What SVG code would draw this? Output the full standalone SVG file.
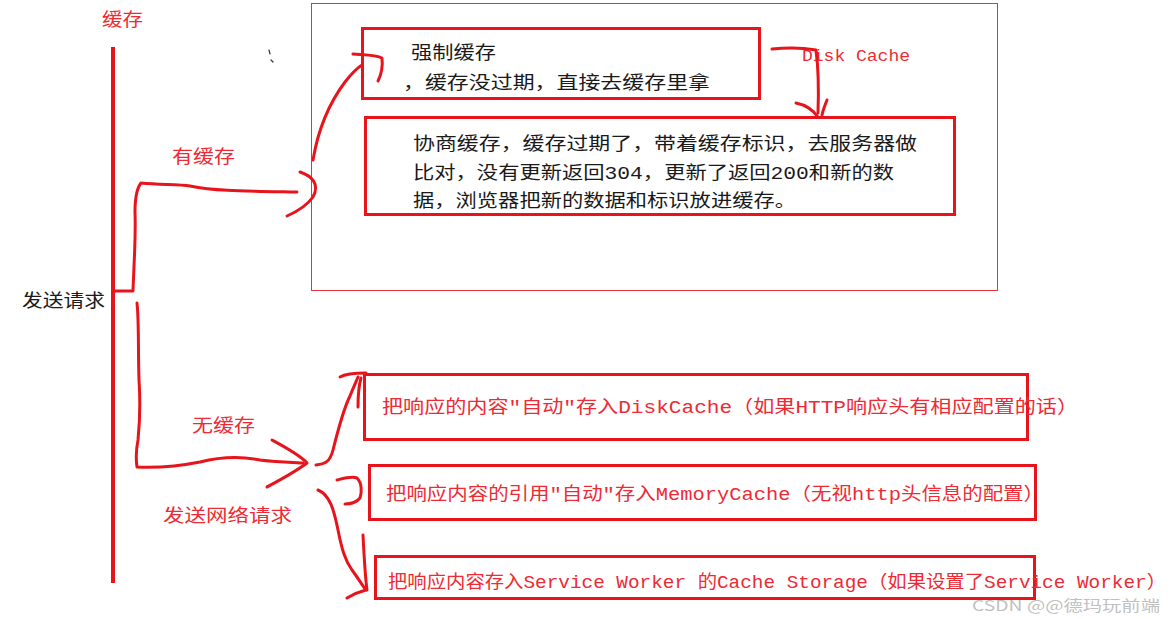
<svg xmlns="http://www.w3.org/2000/svg" width="1175" height="619" viewBox="0 0 1175 619">
<style>
  .t { font-family: "Liberation Mono", "Noto Sans CJK SC", monospace; font-size: 18px; }
  .red { fill: #ee2a35; }
  .blk { fill: #1a1a1a; }
  .box { fill: none; stroke: #e8141c; stroke-width: 3; }
  .ink { fill: none; stroke: #e8141c; stroke-width: 3; stroke-linecap: round; stroke-linejoin: round; }
</style>
<rect width="1175" height="619" fill="#ffffff"/>

<g id="title">
  <text class="t red" x="102" y="26" textLength="41" lengthAdjust="spacingAndGlyphs">缓存</text>
</g>
<g id="send-request">
  <text class="t blk" x="22" y="307" textLength="83" lengthAdjust="spacingAndGlyphs">发送请求</text>
</g>
<g id="label-has-cache">
  <text class="t red" x="172" y="163" textLength="63" lengthAdjust="spacingAndGlyphs">有缓存</text>
</g>
<g id="label-no-cache">
  <text class="t red" x="192" y="432" textLength="63" lengthAdjust="spacingAndGlyphs">无缓存</text>
  <text class="t red" x="163" y="522" textLength="129" lengthAdjust="spacingAndGlyphs">发送网络请求</text>
</g>

<g id="cache-area">
  <rect x="311.5" y="3.5" width="686" height="287" fill="none" stroke="#e5333b" stroke-width="1"/>
</g>
<g id="strong-cache">
  <rect class="box" x="362.5" y="28.5" width="397" height="70"/>
  <text class="t blk" x="411" y="59" textLength="85" lengthAdjust="spacingAndGlyphs">强制缓存</text>
  <text class="t blk" x="403" y="89" textLength="307" lengthAdjust="spacingAndGlyphs">，缓存没过期，直接去缓存里拿</text>
</g>
<g id="disk-cache-label">
  <text x="802" y="61" font-family="Liberation Mono, monospace" font-size="16" fill="#ee2a35" textLength="108" lengthAdjust="spacingAndGlyphs">Disk Cache</text>
</g>
<g id="negotiated-cache">
  <rect class="box" x="365.5" y="117.5" width="589" height="97"/>
  <text class="t blk" x="413" y="150" textLength="504" lengthAdjust="spacingAndGlyphs">协商缓存，缓存过期了，带着缓存标识，去服务器做</text>
  <text class="t blk" x="413" y="179" textLength="481" lengthAdjust="spacingAndGlyphs">比对，没有更新返回304，更新了返回200和新的数</text>
  <text class="t blk" x="413" y="207" textLength="383" lengthAdjust="spacingAndGlyphs">据，浏览器把新的数据和标识放进缓存。</text>
</g>

<g id="disk-cache-store">
  <rect class="box" x="364.5" y="374.5" width="663" height="65"/>
  <text class="t red" x="382" y="413" textLength="696" lengthAdjust="spacingAndGlyphs">把响应的内容"自动"存入DiskCache（如果HTTP响应头有相应配置的话）</text>
</g>
<g id="memory-cache-store">
  <rect class="box" x="369.5" y="465.5" width="666" height="54"/>
  <text class="t red" x="386" y="500" textLength="658" lengthAdjust="spacingAndGlyphs">把响应内容的引用"自动"存入MemoryCache（无视http头信息的配置）</text>
</g>
<g id="service-worker-store">
  <rect class="box" x="375.5" y="556.5" width="659" height="42"/>
  <text class="t red" x="388" y="588" textLength="778" lengthAdjust="spacingAndGlyphs">把响应内容存入Service Worker 的Cache Storage（如果设置了Service Worker）</text>
</g>

<g id="watermark">
  <text x="972" y="611" font-family="Noto Sans CJK SC, Liberation Sans, sans-serif" font-size="15" fill="#b8b8b8" fill-opacity="0.9" textLength="188" lengthAdjust="spacingAndGlyphs">CSDN @@德玛玩前端</text>
</g>

<g id="connectors">
  <line x1="113" y1="47" x2="113" y2="583" stroke="#e8141c" stroke-width="4"/>
  <path class="ink" d="M113,291 L133,291 C134,262 136,235 135,212 C135,198 137,188 141,183 C160,185 178,184 190,186 C215,191 240,191 297,192"/>
  <path class="ink" d="M300,172 C312,176 320,184 313,197 C306,207 296,212 287,216"/>
  <path class="ink" d="M313,160 C318,130 330,102 345,82 C352,73 357,68 362,65"/>
  <path class="ink" d="M353,54 C365,55 376,55 382,58 C383,67 381,75 378,81"/>
  <path class="ink" d="M772,49 C790,47 805,48 816,50 C818,65 819,85 818,113"/>
  <path class="ink" d="M796,103 C806,105 813,110 818,117 M827,100 C825,105 823,110 822,115"/>
  <path class="ink" d="M137,303 C139,320 138,350 139,380 C140,395 140,420 138,440 C136,450 136,460 137,467 C160,468 180,466 200,462 C220,457 240,456 260,460 C275,462 290,462 303,463"/>
  <path class="ink" d="M272,440 C285,447 300,455 307,463 C295,472 280,480 267,487"/>
  <path class="ink" d="M316,465 C325,464 330,462 333,450 C338,430 343,410 350,396 C353,388 356,382 358,377"/>
  <path class="ink" d="M340,377 C345,374 355,373 366,373"/>
  <path class="ink" d="M358,407 C358,395 359,385 361,378"/>
  <path class="ink" d="M337,480 C345,478 352,476 357,478 C362,483 362,492 360,498 C356,503 350,504 345,504"/>
  <path class="ink" d="M318,490 C330,495 334,510 338,530 C342,550 345,560 352,570 C358,578 362,585 366,590 C358,592 352,595 347,598"/>
  <path class="ink" d="M363,535 C364,555 365,575 367,590"/>
  <path d="M269,50 L270,54 M271,60 L273,62" fill="none" stroke="#333" stroke-width="1.2" stroke-linecap="round"/>
</g>
</svg>
